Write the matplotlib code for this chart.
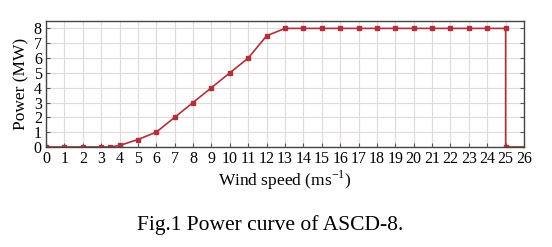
import matplotlib
matplotlib.use("Agg")
import matplotlib.pyplot as plt

wind = [0, 1, 2, 3, 3.5, 4, 5, 6, 7, 8, 9, 10, 11, 12, 13, 14, 15, 16, 17, 18, 19, 20, 21, 22, 23, 24, 25, 25, 26]
power = [0, 0, 0, 0, 0, 0.1, 0.5, 1.0, 2.0, 3.0, 4.0, 5.0, 6.0, 7.5, 8, 8, 8, 8, 8, 8, 8, 8, 8, 8, 8, 8, 8, 0, 0]
marker_every = list(range(len(wind) - 1))
xticks = list(range(0, 27))
yticks = list(range(0, 9))

plt.rcParams['font.family'] = ['Liberation Serif', 'DejaVu Serif']
fig = plt.figure(figsize=(5.52, 2.47), dpi=100)
ax = fig.add_axes([0.0833, 0.405, 0.866, 0.51])
color = '#b0303c'
ax.plot(wind, power, color=color, lw=1.2, marker='s', ms=2.8, markevery=marker_every)
ax.set_xlim(0, 26)
ax.set_ylim(0, 8.5)
ax.set_xticks(xticks)
ax.set_yticks(yticks)
ax.grid(True, color='#e2d9d9', lw=0.8)
ax.set_axisbelow(True)
ax.tick_params(direction='in', length=3, labelsize=11.5, pad=3, top=False, right=True, color='#555555')
for s in ax.spines.values():
    s.set_color('#444444')
    s.set_linewidth(1.0)
ax.set_xlabel('Wind speed (ms$^{\\mathregular{-1}}$)', fontsize=12.5, labelpad=1)
ax.set_ylabel('Power (MW)', fontsize=12.5, labelpad=3)
fig.text(0.49, 0.09, 'Fig.1 Power curve of ASCD-8.', ha='center', va='center', fontsize=15.5)
fig.savefig('out.png', dpi=100)
